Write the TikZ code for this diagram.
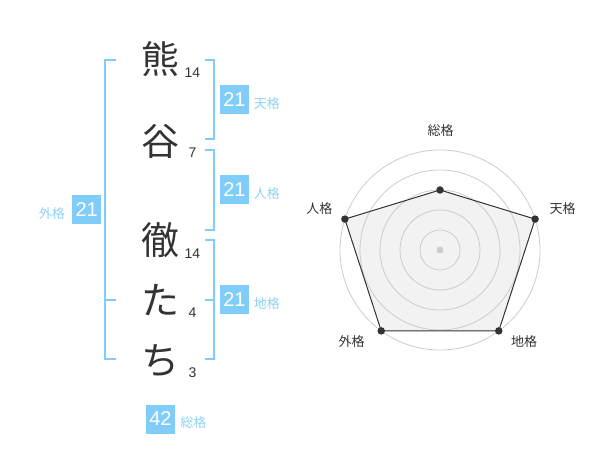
\documentclass[tikz,border=0pt]{standalone}
\usepackage{fontspec}
\setmainfont{Liberation Sans}
\newfontfamily\jpfont{Noto Sans CJK JP}
\usepackage{tikz}
\usetikzlibrary{positioning}
\definecolor{kakublue}{HTML}{7FCDF8}
\definecolor{labelblue}{HTML}{8ED2F6}
\definecolor{inkgray}{HTML}{333333}
\definecolor{ringgray}{HTML}{CCCCCC}

\begin{document}
\begin{tikzpicture}[x=1pt, y=-1pt,
        namechar/.style={font=\jpfont\fontsize{38}{38}\selectfont, text=inkgray, inner sep=0pt},
        strokes/.style={font=\fontsize{14}{14}\selectfont, text=inkgray, inner sep=0pt},
        bracket/.style={draw=kakublue, line width=2pt},
        scorebox/.style={fill=kakublue, text=white, font=\fontsize{20}{20}\selectfont, minimum size=29pt, inner sep=0pt},
        kakulabel/.style={font=\jpfont\fontsize{13}{13}\selectfont, text=labelblue, inner sep=0pt},
        ring/.style={draw=ringgray, line width=0.8pt},
        radarfill/.style={fill=black!5},
        radarline/.style={draw=inkgray, line width=1pt},
        vertex/.style={circle, fill=inkgray, inner sep=0pt, minimum size=7.5pt},
        axislabel/.style={font=\jpfont\fontsize{13}{13}\selectfont, text=inkgray, inner sep=0pt}
    ]
        \useasboundingbox (0,0) rectangle (600,470);

        % Name characters
        \node[namechar] (kuma) at (160,59) {熊};
        \node[namechar] (tani) at (160,141) {谷};
        \node[namechar] (tetsu) at (160,240) {徹};
        \node[namechar] (ta) at (160,300) {た};
        \node[namechar] (chi) at (160,361) {ち};

        % Stroke counts
        \node[strokes] (kuma-n) at (192.5,72.5) {14};
        \node[strokes] (tani-n) at (192.5,152.5) {7};
        \node[strokes] (tetsu-n) at (192.5,253.5) {14};
        \node[strokes] (ta-n) at (192.5,312.5) {4};
        \node[strokes] (chi-n) at (192.5,372.5) {3};

        % Brackets
        \draw[bracket] (115.7,60) -- (105,60) -- (105,359.3) -- (115.7,359.3);
        \draw[bracket] (105,300) -- (115.7,300);
        \draw[bracket] (205,60) -- (214.3,60) -- (214.3,139.3) -- (205,139.3);
        \draw[bracket] (205,150) -- (214.3,150) -- (214.3,230) -- (205,230);
        \draw[bracket] (205,240) -- (214.3,240) -- (214.3,359.3) -- (205,359.3);
        \draw[bracket] (205,300) -- (214.3,300);

        % Scores
        \node[scorebox] (tenkaku) at (234.5,100) {21};
        \node[kakulabel, right=4.5pt of tenkaku, yshift=-4pt] (tenkaku-l) {天格};
        \node[scorebox] (jinkaku) at (234.5,190) {21};
        \node[kakulabel, right=4.5pt of jinkaku, yshift=-4pt] (jinkaku-l) {人格};
        \node[scorebox] (chikaku) at (234.5,300) {21};
        \node[kakulabel, right=4.5pt of chikaku, yshift=-4pt] (chikaku-l) {地格};
        \node[scorebox] (gaikaku) at (86.7,210) {21};
        \node[kakulabel, left=7pt of gaikaku, yshift=-4pt] (gaikaku-l) {外格};
        \node[scorebox] (soukaku) at (160.5,419) {42};
        \node[kakulabel, right=5pt of soukaku, yshift=-4pt] (soukaku-l) {総格};

        % Radar chart
        \begin{scope}[shift={(440,250)}]
            \coordinate (p-sou) at (-90:60);
            \coordinate (p-ten) at (-18:100);
            \coordinate (p-chi) at (54:100);
            \coordinate (p-gai) at (126:100);
            \coordinate (p-jin) at (198:100);
            \fill[radarfill] (p-sou) -- (p-ten) -- (p-chi) -- (p-gai) -- (p-jin) -- cycle;
            \foreach \r in {20,40,60,80,100}
                \draw[ring] (0,0) circle[radius=\r];
            \fill[ringgray] (0,0) circle[radius=3.5];
            \draw[radarline] (p-sou) -- (p-ten) -- (p-chi) -- (p-gai) -- (p-jin) -- cycle;
            \foreach \p in {sou,ten,chi,gai,jin}
                \node[vertex] (d-\p) at (p-\p) {};
            % Axis labels
            \node[axislabel] (a-sou) at (0.7,-119.3) {総格};
            \node[axislabel] (a-ten) at (122.7,-41.7) {天格};
            \node[axislabel] (a-chi) at (84,91.7) {地格};
            \node[axislabel] (a-gai) at (-88.3,91.7) {外格};
            \node[axislabel] (a-jin) at (-120.7,-41.7) {人格};
        \end{scope}

    \end{tikzpicture}
\end{document}
